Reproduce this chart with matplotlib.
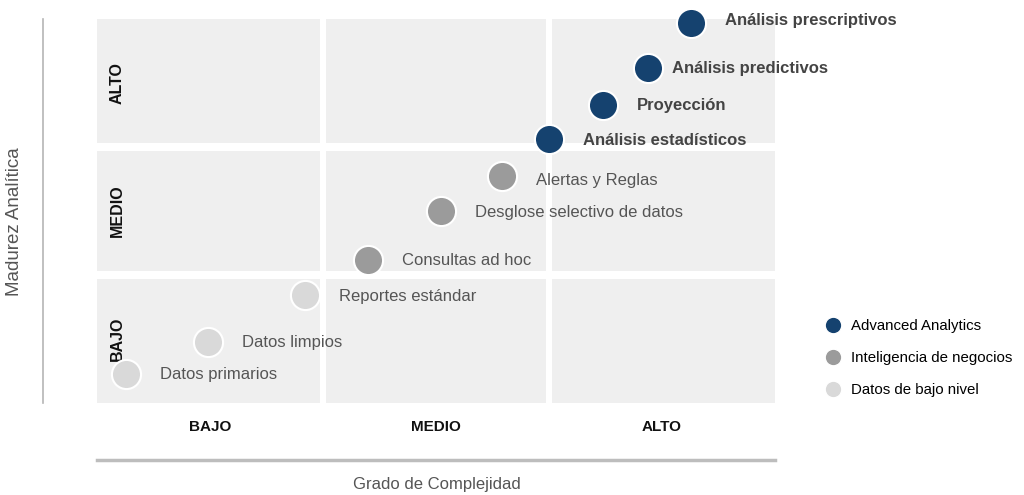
import matplotlib
matplotlib.use('Agg')
import matplotlib.pyplot as plt
import matplotlib.patches as mpatches
from matplotlib.lines import Line2D

plt.rcParams['font.family'] = ['Liberation Sans', 'DejaVu Sans']

# ── Data ──────────────────────────────────────────────────────────────────────
item_labels = ['Datos primarios', 'Datos limpios', 'Reportes estándar',
               'Consultas ad hoc', 'Desglose selectivo de datos', 'Alertas y Reglas',
               'Análisis estadísticos', 'Proyección', 'Análisis predictivos',
               'Análisis prescriptivos']
complexity = [0.13, 0.49, 0.92, 1.20, 1.52, 1.79, 2.00, 2.24, 2.44, 2.63]
maturity = [0.23, 0.48, 0.84, 1.12, 1.50, 1.77, 2.06, 2.33, 2.62, 2.97]
group = ['low'] * 3 + ['bi'] * 3 + ['adv'] * 4

group_names = {'adv': 'Advanced Analytics',
               'bi': 'Inteligencia de negocios',
               'low': 'Datos de bajo nivel'}
group_colors = {'adv': '#15426f', 'bi': '#9b9b9b', 'low': '#d9d9d9'}
levels = ['BAJO', 'MEDIO', 'ALTO']

# ── Figure ────────────────────────────────────────────────────────────────────
fig = plt.figure(figsize=(10.24, 4.95), dpi=100)
ax = fig.add_axes([97 / 1024, 92 / 495, 678 / 1024, 384 / 495])
ax.set_xlim(0, 3)
ax.set_ylim(0, 3)
ax.axis('off')

# grid cells
gx, gy = 0.013, 0.035
for i in range(3):
    x0 = i + (gx if i > 0 else 0)
    x1 = i + 1 - (gx if i < 2 else 0)
    for j in range(3):
        y0 = j + (gy if j > 0 else 0)
        y1 = j + 1 - (gy if j < 2 else 0)
        ax.add_patch(mpatches.Rectangle((x0, y0), x1 - x0, y1 - y0,
                                        facecolor='#efefef', edgecolor='none', zorder=0))

# level labels
for k, lv in enumerate(levels):
    ax.text(0.088, k + 0.5, lv, rotation=90, ha='center', va='center',
            fontsize=11.5, fontweight='bold', color='#111111', zorder=1)
    ax.text(k + 0.5, -0.185, lv, ha='center', va='center',
            fontsize=11, fontweight='bold', color='#111111', clip_on=False)

# points + labels
for g in ['low', 'bi', 'adv']:
    xs = [x for x, gg in zip(complexity, group) if gg == g]
    ys = [y for y, gg in zip(maturity, group) if gg == g]
    ax.scatter(xs, ys, s=440, color=group_colors[g], edgecolors='white',
               linewidths=1.5, zorder=3, clip_on=False)

for lbl, x, y, g in zip(item_labels, complexity, maturity, group):
    bold = g == 'adv'
    dx = 24 if lbl == 'Análisis predictivos' else 34
    dy = -4 if lbl == 'Alertas y Reglas' else (2 if lbl == 'Análisis prescriptivos' else -1)
    ax.annotate(lbl, (x, y), xytext=(dx, dy), textcoords='offset pixels',
                ha='left', va='center', fontsize=12,
                fontweight='bold' if bold else 'normal',
                color='#444444' if bold else '#555555', zorder=4,
                annotation_clip=False)

# axis lines
ax.plot([-0.239, -0.239], [0, 3], color='#b5b5b5', lw=1.2, clip_on=False)
ax.plot([0, 3], [-0.445, -0.445], color='#bdbdbd', lw=2.5, clip_on=False)

fig.text(15 / 1024, 0.553, 'Madurez Analítica', rotation=90, ha='center',
         va='center', fontsize=13.5, color='#555555')
fig.text(437 / 1024, 11 / 495, 'Grado de Complejidad', ha='center',
         va='center', fontsize=12, color='#555555')

# legend
handles = [Line2D([0], [0], marker='o', linestyle='', markersize=12,
                  markerfacecolor=group_colors[g], markeredgecolor='white',
                  label=group_names[g]) for g in ['adv', 'bi', 'low']]
fig.legend(handles=handles, loc='center left',
           bbox_to_anchor=(818 / 1024, 137 / 495), frameon=False,
           fontsize=10.8, labelspacing=1.2, handletextpad=0.6,
           handlelength=1.2, borderaxespad=0)

fig.savefig('out.png', dpi=100)
